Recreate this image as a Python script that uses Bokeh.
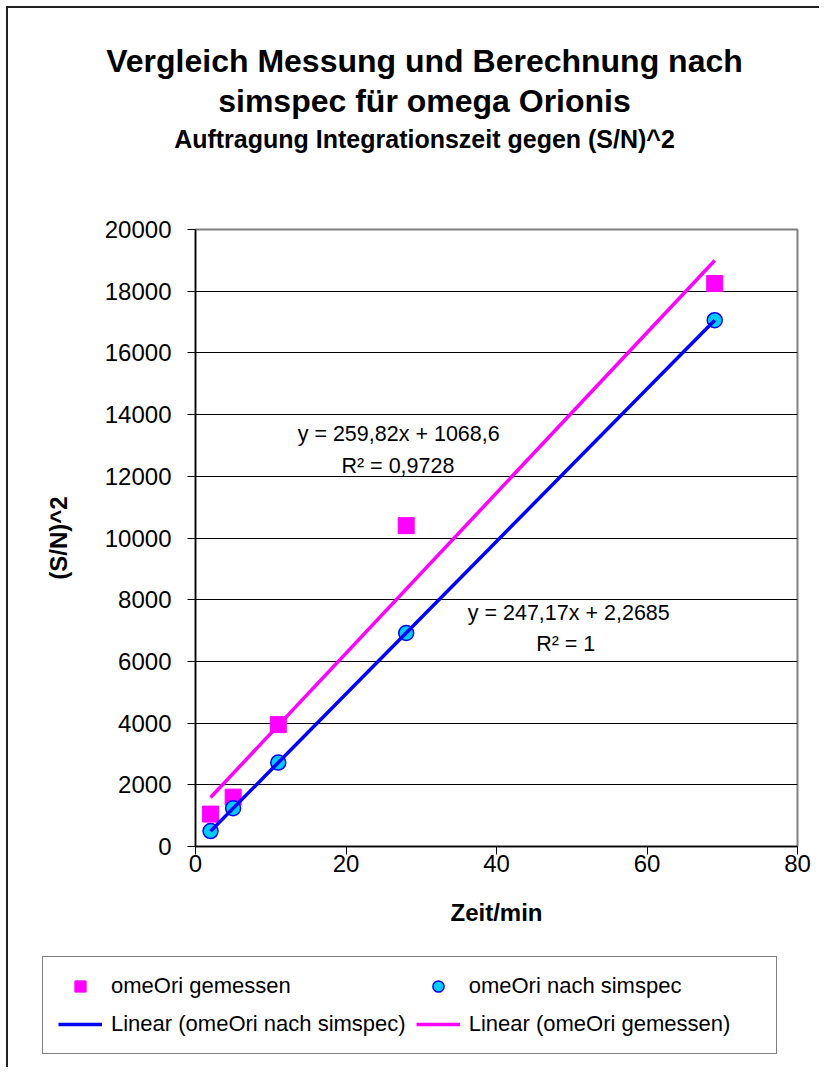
from bokeh.plotting import figure
from bokeh.models import (Label, Legend, LegendItem, Range1d, FixedTicker,
                          BasicTickFormatter, ColumnDataSource)
from bokeh.layouts import column
from bokeh.embed import file_html
from bokeh.resources import INLINE

# ---------------- data ----------------
zeit_min = [2, 5, 11, 28, 69]
sn2_gemessen = [1050, 1600, 3950, 10400, 18250]
sn2_simspec = [500, 1240, 2720, 6920, 17060]
fit_gemessen = [259.82, 1068.6]   # slope, intercept
fit_simspec = [247.17, 2.2685]
x_ticks = [0, 20, 40, 60, 80]
y_ticks = [0, 2000, 4000, 6000, 8000, 10000, 12000, 14000, 16000, 18000, 20000]

title_1 = "Vergleich Messung und Berechnung nach"
title_2 = "simspec für omega Orionis"
subtitle = "Auftragung Integrationszeit gegen (S/N)^2"
eq_gemessen = ["y = 259,82x + 1068,6", "R² = 0,9728"]
eq_simspec = ["y = 247,17x + 2,2685", "R² = 1"]
series_names = ["omeOri gemessen", "omeOri nach simspec",
                "Linear (omeOri nach simspec)", "Linear (omeOri gemessen)"]

FONT = "Liberation Sans"
MAGENTA = "#FF00FF"
BLUE = "#0000FF"
CYAN = "#00CCFF"
W = 811
H_TITLE, H_MAIN, H_LEG = 160, 780, 119


def blank_panel(h):
    f = figure(width=W, height=h, output_backend="svg", toolbar_location=None,
               x_range=Range1d(0, W), y_range=Range1d(0, h), min_border=0,
               frame_align=False)
    f.axis.visible = False
    f.grid.visible = False
    f.outline_line_color = None
    f.background_fill_color = "white"
    f.border_fill_color = "white"
    return f


# ---------------- title panel ----------------
pt = blank_panel(H_TITLE)
for txt, y, size in [(title_1, 108, "32px"), (title_2, 68, "32px"), (subtitle, 30, "25px")]:
    pt.add_layout(Label(x=416, y=y, text=txt, text_align="center", text_baseline="middle",
                        text_font=FONT, text_font_size=size, text_font_style="bold",
                        text_color="black"))

# ---------------- main chart ----------------
p = figure(width=W, height=H_MAIN, output_backend="svg", toolbar_location=None,
           x_range=Range1d(0, 80), y_range=Range1d(0, 20000),
           min_border_left=187, min_border_right=22,
           min_border_top=61, min_border_bottom=102, frame_align=False)
p.background_fill_color = "white"
p.border_fill_color = "white"
p.outline_line_color = "#808080"
p.outline_line_width = 2

p.xgrid.visible = False
p.ygrid.ticker = FixedTicker(ticks=y_ticks)
p.ygrid.grid_line_color = "black"
p.ygrid.grid_line_width = 1

p.xaxis.ticker = FixedTicker(ticks=x_ticks)
p.yaxis.ticker = FixedTicker(ticks=y_ticks)
p.yaxis.formatter = BasicTickFormatter(use_scientific=False)
p.xaxis.formatter = BasicTickFormatter(use_scientific=False)
for ax in p.xaxis + p.yaxis:
    ax.axis_line_color = "black"
    ax.axis_line_width = 1.5
    ax.major_tick_line_color = "black"
    ax.major_tick_line_width = 1
    ax.major_tick_in = 0
    ax.major_tick_out = 8
    ax.minor_tick_in = 0
    ax.minor_tick_out = 0
    ax.major_label_text_font = FONT
    ax.major_label_text_font_size = "24px"
    ax.major_label_text_color = "black"
    ax.axis_label_text_font = FONT
    ax.axis_label_text_font_size = "24px"
    ax.axis_label_text_font_style = "bold"
    ax.axis_label_text_color = "black"
p.xaxis.axis_label = "Zeit/min"
p.yaxis.axis_label = "(S/N)^2"
p.xaxis.major_label_standoff = 0
p.xaxis.axis_label_standoff = 24
p.yaxis.major_label_standoff = 16
p.yaxis.axis_label_standoff = 30

src_g = ColumnDataSource(dict(x=zeit_min, y=sn2_gemessen))
src_s = ColumnDataSource(dict(x=zeit_min, y=sn2_simspec))
x_fit = [min(zeit_min), max(zeit_min)]
src_fg = ColumnDataSource(dict(x=x_fit, y=[fit_gemessen[0] * v + fit_gemessen[1] for v in x_fit]))
src_fs = ColumnDataSource(dict(x=x_fit, y=[fit_simspec[0] * v + fit_simspec[1] for v in x_fit]))

sq_style = dict(marker="square", size=16, fill_color=MAGENTA, line_color=MAGENTA)
ci_style = dict(marker="circle", size=15, fill_color=CYAN, line_color=BLUE, line_width=1.5)
lg_style = dict(line_color=MAGENTA, line_width=3.5)
ls_style = dict(line_color=BLUE, line_width=3.5)

p.scatter("x", "y", source=src_g, **sq_style)
p.scatter("x", "y", source=src_s, **ci_style)
p.line("x", "y", source=src_fg, **lg_style)
p.line("x", "y", source=src_fs, **ls_style)

for txt, x, y in [(eq_gemessen[0], 27.0, 13355), (eq_gemessen[1], 26.9, 12350),
                  (eq_simspec[0], 49.6, 7585), (eq_simspec[1], 49.2, 6580)]:
    p.add_layout(Label(x=x, y=y, text=txt, text_align="center", text_baseline="middle",
                       text_font=FONT, text_font_size="21.5px", text_color="black"))

# ---------------- legend panel ----------------
pl = blank_panel(H_LEG)
nan_pt = dict(x=[float("nan")], y=[float("nan")])
l_sq = pl.scatter("x", "y", source=ColumnDataSource(nan_pt), **dict(sq_style, size=12))
l_ci = pl.scatter("x", "y", source=ColumnDataSource(nan_pt), **dict(ci_style, size=11))
l_ls = pl.line("x", "y", source=ColumnDataSource(nan_pt), **ls_style)
l_lg = pl.line("x", "y", source=ColumnDataSource(nan_pt), **lg_style)
legend = Legend(items=[
    LegendItem(label=series_names[0], renderers=[l_sq]),
    LegendItem(label=series_names[1], renderers=[l_ci]),
    LegendItem(label=series_names[2], renderers=[l_ls]),
    LegendItem(label=series_names[3], renderers=[l_lg]),
], orientation="horizontal", ncols=2, location=(34, 13))
legend.label_text_font = FONT
legend.label_text_font_size = "22px"
legend.label_text_color = "black"
legend.glyph_width = 44
legend.glyph_height = 28
legend.label_standoff = 9
legend.label_width = 292
legend.spacing = 10
legend.padding = 15
legend.margin = 0
legend.border_line_color = "black"
legend.border_line_width = 1
legend.background_fill_color = "white"
legend.background_fill_alpha = 1
pl.add_layout(legend, "center")

layout = column(pt, p, pl, spacing=0,
                styles={"margin-left": "6px", "margin-top": "6px",
                        "border-left": "2px solid #222", "border-top": "2px solid #222"})

open("out.html", "w").write(file_html(layout, INLINE))
